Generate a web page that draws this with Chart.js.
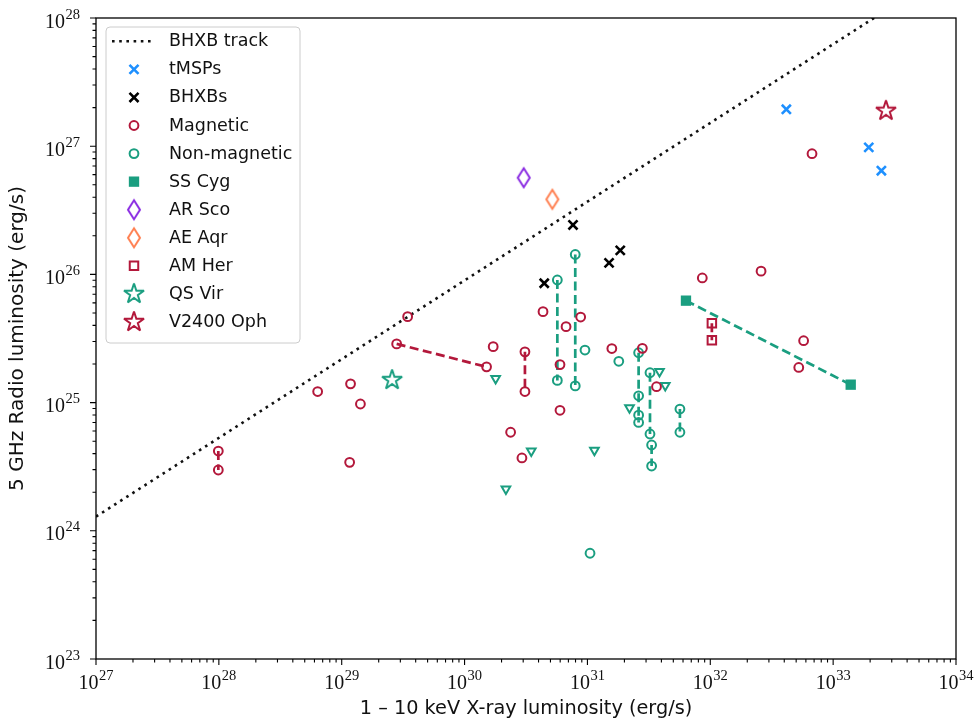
<!DOCTYPE html>
<html>
<head>
<meta charset="utf-8">
<script src="https://cdn.jsdelivr.net/npm/chart.js@4.4.1/dist/chart.umd.min.js"></script>
<style>
  html, body { margin: 0; padding: 0; background: #fff; }
</style>
</head>
<body>
<canvas id="chart" width="977" height="723"></canvas>
<script>
// values, erg/s
const xDecades = [27, 28, 29, 30, 31, 32, 33, 34];
const yDecades = [23, 24, 25, 26, 27, 28];

const trackX = [1e27, 1e34];
const trackY = [1.29e24, 2.57e28];

const tmspX = [4.16e32, 1.95e33, 2.47e33];
const tmspY = [1.94e27, 9.8e26, 6.44e26];

const bhxbX = [7.63e30, 4.45e30, 1.50e31, 1.85e31];
const bhxbY = [2.43e26, 8.53e25, 1.23e26, 1.54e26];

const magX = [9.9e27, 9.9e27, 6.37e28, 1.16e29, 1.18e29, 1.42e29, 3.44e29, 2.80e29, 1.51e30,
  1.71e30, 3.10e30, 3.10e30, 2.37e30, 2.93e30, 4.35e30, 6.70e30, 8.81e30, 5.98e30, 5.98e30,
  1.58e31, 2.80e31, 3.65e31, 8.61e31, 2.59e32, 5.75e32, 5.25e32, 6.73e32];
const magY = [4.19e24, 2.98e24, 1.22e25, 3.42e24, 1.40e25, 9.75e24, 4.68e25, 2.87e25, 1.90e25,
  2.73e25, 2.49e25, 1.22e25, 5.87e24, 3.70e24, 5.12e25, 3.91e25, 4.65e25, 1.98e25, 8.71e24,
  2.64e25, 2.65e25, 1.33e25, 9.38e25, 1.06e26, 3.04e25, 1.88e25, 8.74e26];
const magLinks = [[0, 1], [7, 8], [10, 11]];

const nonmagX = [5.69e30, 5.69e30, 7.96e30, 7.96e30, 9.55e30, 1.80e31, 2.61e31, 2.61e31, 2.61e31,
  2.61e31, 3.23e31, 3.23e31, 3.33e31, 3.33e31, 5.66e31, 5.66e31, 1.05e31];
const nonmagY = [9.04e25, 1.49e25, 1.43e26, 1.35e25, 2.57e25, 2.10e25, 2.45e25, 1.13e25, 7.98e24,
  7.00e24, 1.71e25, 5.69e24, 4.67e24, 3.20e24, 8.91e24, 5.87e24, 6.68e23];
const nonmagLinks = [[0, 1], [2, 3], [6, 9], [10, 11], [12, 13], [14, 15]];

// non-magnetic upper limits
const limX = [1.79e30, 2.17e30, 3.49e30, 1.14e31, 2.20e31, 3.86e31, 4.30e31];
const limY = [1.54e25, 2.12e24, 4.19e24, 4.24e24, 9.12e24, 1.75e25, 1.36e25];

const sscygX = [6.34e31, 1.39e33];
const sscygY = [6.24e25, 1.38e25];
const arscoX = [3.03e30];
const arscoY = [5.68e26];
const aeaqrX = [5.18e30];
const aeaqrY = [3.85e26];
const amherX = [1.03e32, 1.03e32];
const amherY = [4.16e25, 3.06e25];
const qsvirX = [2.57e29];
const qsvirY = [1.50e25];
const v2400X = [2.69e33];
const v2400Y = [1.89e27];

const teal = '#1a9e80';
const red = '#b3183b';
const blue = '#1e90ff';
const hollow = 'rgba(0,0,0,0)';
const dash = [9, 4.5];

// custom markers (thin diamond and five point star)
function thinDiamond(color) {
  const c = document.createElement('canvas');
  c.width = 18; c.height = 26;
  const g = c.getContext('2d');
  g.strokeStyle = color; g.lineWidth = 2;
  g.beginPath();
  g.moveTo(9, 3.5); g.lineTo(15, 13); g.lineTo(9, 22.5); g.lineTo(3, 13);
  g.closePath(); g.stroke();
  return c;
}
function star(color) {
  const c = document.createElement('canvas');
  c.width = 28; c.height = 28;
  const g = c.getContext('2d');
  const R = 10.5, r = R * 0.381966;
  g.strokeStyle = color; g.lineWidth = 2; g.miterLimit = 2;
  g.beginPath();
  for (let k = 0; k < 10; k++) {
    const rad = k % 2 ? r : R;
    const a = -Math.PI / 2 + k * Math.PI / 5;
    const px = 14 + rad * Math.cos(a), py = 14 + rad * Math.sin(a);
    k ? g.lineTo(px, py) : g.moveTo(px, py);
  }
  g.closePath(); g.stroke();
  return c;
}

function pts(xs, ys) {
  return xs.map((v, i) => ({x: v, y: ys[i]}));
}
function links(xs, ys, pairs, color) {
  return pairs.map(([i, j]) => ({
    data: [{x: xs[i], y: ys[i]}, {x: xs[j], y: ys[j]}],
    showLine: true, pointRadius: 0, borderColor: color, borderWidth: 2.7,
    borderDash: dash, order: 5
  }));
}
function markers(label, xs, ys, style, color, radius, opts) {
  return Object.assign({
    label: label, legend: true,
    data: pts(xs, ys), showLine: false,
    pointStyle: style, pointRadius: radius,
    pointBorderColor: color, pointBackgroundColor: hollow,
    borderColor: color, backgroundColor: hollow,
    pointBorderWidth: 2, order: 1
  }, opts || {});
}

const datasets = [
  {label: 'BHXB track', legend: true, track: true, data: pts(trackX, trackY), showLine: true,
    pointRadius: 0, borderColor: '#111', borderWidth: 2.6, borderDash: [2.6, 4.6], order: 10},
  markers('tMSPs', tmspX, tmspY, 'crossRot', blue, 6.4, {pointBorderWidth: 2.6}),
  markers('BHXBs', bhxbX, bhxbY, 'crossRot', '#000', 6.4, {pointBorderWidth: 2.6}),
  markers('Magnetic', magX, magY, 'circle', red, 4.4),
  markers('Non-magnetic', nonmagX, nonmagY, 'circle', teal, 4.4),
  markers('SS Cyg', sscygX, sscygY, 'rect', teal, 7.3, {pointBackgroundColor: teal, backgroundColor: teal, pointBorderWidth: 0}),
  markers('AR Sco', arscoX, arscoY, thinDiamond('#8a2be2'), '#8a2be2', 9),
  markers('AE Aqr', aeaqrX, aeaqrY, thinDiamond('#ff7f50'), '#ff7f50', 9),
  markers('AM Her', amherX, amherY, 'rect', red, 6),
  markers('QS Vir', qsvirX, qsvirY, star(teal), teal, 11),
  markers('V2400 Oph', v2400X, v2400Y, star(red), red, 11),
  markers('limits', limX, limY, 'triangle', teal, 5, {legend: false, pointRotation: 180}),
  ...links(magX, magY, magLinks, red),
  ...links(nonmagX, nonmagY, nonmagLinks, teal),
  ...links(sscygX, sscygY, [[0, 1]], teal),
  ...links(amherX, amherY, [[0, 1]], red)
];

function logTicks(decades) {
  const t = [];
  decades.forEach((d, i) => {
    for (let m = 1; m <= 9; m++) {
      if (i === decades.length - 1 && m > 1) break;
      t.push({value: m * Math.pow(10, d), major: m === 1});
    }
  });
  return t;
}

// frame, tick marks and 10^n labels
const axesDecor = {
  id: 'axesDecor',
  afterDraw(chart) {
    const {ctx, chartArea: a, scales: {x, y}} = chart;
    ctx.save();
    ctx.strokeStyle = '#000';
    ctx.lineWidth = 1.1;
    ctx.beginPath();
    x.ticks.forEach(t => {
      const px = x.getPixelForValue(t.value);
      ctx.moveTo(px, a.bottom); ctx.lineTo(px, a.bottom + (t.major ? 6 : 3.5));
    });
    y.ticks.forEach(t => {
      const py = y.getPixelForValue(t.value);
      ctx.moveTo(a.left, py); ctx.lineTo(a.left - (t.major ? 6 : 3.5), py);
    });
    ctx.stroke();
    ctx.lineWidth = 1.3;
    ctx.strokeRect(a.left, a.top, a.right - a.left, a.bottom - a.top);

    const big = '20px "Liberation Serif", "DejaVu Serif", serif';
    const small = '14.5px "Liberation Serif", "DejaVu Serif", serif';
    ctx.fillStyle = '#111';
    ctx.textBaseline = 'alphabetic';
    ctx.textAlign = 'left';
    const label = (exp, left, base) => {
      ctx.font = big; ctx.fillText('10', left, base);
      const w = ctx.measureText('10').width;
      ctx.font = small; ctx.fillText(String(exp), left + w + 0.5, base - 9);
    };
    const width = exp => {
      ctx.font = big; const w1 = ctx.measureText('10').width;
      ctx.font = small; return w1 + 0.5 + ctx.measureText(String(exp)).width;
    };
    x.ticks.filter(t => t.major).forEach(t => {
      const exp = Math.round(Math.log10(t.value));
      const px = x.getPixelForValue(t.value);
      label(exp, px - width(exp) / 2, a.bottom + 30);
    });
    y.ticks.filter(t => t.major).forEach(t => {
      const exp = Math.round(Math.log10(t.value));
      const py = y.getPixelForValue(t.value);
      label(exp, a.left - 16 - width(exp), py + 9.5);
    });
    ctx.restore();
  }
};

// legend box in the upper left corner
const legendBox = {
  id: 'legendBox',
  afterDatasetsDraw(chart) {
    const ctx = chart.ctx;
    const items = chart.data.datasets.filter(d => d.legend);
    const bx = 106, by = 27, bw = 194, bh = 316, rowY = 41.3, step = 28.07;
    ctx.save();
    ctx.beginPath();
    ctx.roundRect(bx, by, bw, bh, 4);
    ctx.fillStyle = 'rgba(255,255,255,0.8)';
    ctx.fill();
    ctx.strokeStyle = '#cccccc';
    ctx.lineWidth = 1;
    ctx.stroke();
    items.forEach((d, i) => {
      const cy = rowY + i * step;
      if (d.track) {
        ctx.strokeStyle = d.borderColor;
        ctx.lineWidth = d.borderWidth;
        ctx.setLineDash(d.borderDash);
        ctx.beginPath(); ctx.moveTo(112, cy); ctx.lineTo(153, cy); ctx.stroke();
        ctx.setLineDash([]);
      } else {
        ctx.strokeStyle = d.pointBorderColor;
        ctx.fillStyle = d.pointBackgroundColor;
        ctx.lineWidth = d.pointBorderWidth;
        Chart.helpers.drawPoint(ctx, {
          pointStyle: d.pointStyle, radius: d.pointRadius,
          rotation: d.pointRotation || 0, borderWidth: d.pointBorderWidth
        }, 134, cy);
      }
      ctx.fillStyle = '#111';
      ctx.font = '17.5px "DejaVu Sans", sans-serif';
      ctx.textBaseline = 'middle';
      ctx.textAlign = 'left';
      ctx.fillText(d.label, 169, cy + 0.5);
    });
    ctx.restore();
  }
};

const titleFont = {family: '"DejaVu Sans", sans-serif', size: 19.3};

new Chart(document.getElementById('chart'), {
  type: 'scatter',
  data: {datasets: datasets},
  options: {
    responsive: false,
    animation: false,
    events: [],
    layout: {padding: {top: 18, right: 21, left: 0, bottom: 0}},
    plugins: {legend: {display: false}, tooltip: {enabled: false}},
    scales: {
      x: {
        type: 'logarithmic', min: 1e27, max: 1e34,
        grid: {display: false}, border: {display: false},
        ticks: {display: false},
        afterBuildTicks: s => { s.ticks = logTicks(xDecades); },
        afterFit: s => { s.height = 64; },
        title: {display: true, text: '1 – 10 keV X-ray luminosity (erg/s)', color: '#111',
          font: titleFont, padding: {top: 0, bottom: 2}}
      },
      y: {
        type: 'logarithmic', min: 1e23, max: 1e28,
        grid: {display: false}, border: {display: false},
        ticks: {display: false},
        afterBuildTicks: s => { s.ticks = logTicks(yDecades); },
        afterFit: s => { s.width = 96; },
        title: {display: true, text: '5 GHz Radio luminosity (erg/s)', color: '#111',
          font: {family: '"DejaVu Sans", sans-serif', size: 20}, padding: {top: 6, bottom: 0}}
      }
    }
  },
  plugins: [axesDecor, legendBox]
});
</script>
</body>
</html>
